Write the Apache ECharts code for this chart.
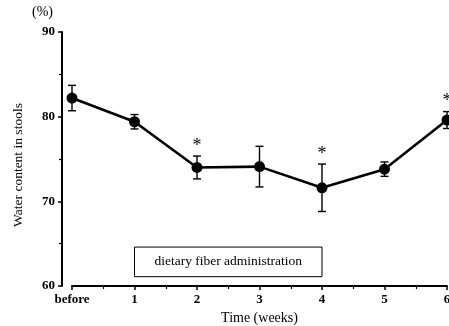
<!DOCTYPE html>
<html>
<head>
<meta charset="utf-8">
<script src="https://cdn.jsdelivr.net/npm/echarts@6/dist/echarts.min.js"></script>
<style>html,body{margin:0;padding:0;background:#fff;}#c{width:449px;height:326px;}</style>
</head>
<body>
<div id="c"></div>
<script>
const categories = ['before', '1', '2', '3', '4', '5', '6'];
const weeks = [0, 1, 2, 3, 4, 5, 6];
const means = [82.2, 79.4, 74.0, 74.1, 71.6, 73.8, 79.6];
const errors = [1.5, 0.85, 1.35, 2.4, 2.8, 0.85, 1.0];
const significant = [false, false, true, false, true, false, true];
const yRange = [60, 90];
const yStep = 10;
const boxWeeks = [1, 4];
const boxValues = [64.6, 61.1];
const boxLabel = 'dietary fiber administration';
const yTitle = 'Water content in stools';
const xTitle = 'Time (weeks)';
const unitLabel = '(%)';

const FONT = 'Liberation Serif';
const lineData = weeks.map((w, i) => [w, means[i]]);
const errData = weeks.map((w, i) => [w, means[i] - errors[i], means[i] + errors[i], significant[i] ? 1 : 0]);

const tickStyle = {show: true, length: 4, lineStyle: {color: '#000', width: 1.5}};
const minorStyle = {show: true, splitNumber: 2, length: 3, lineStyle: {color: '#000', width: 1.2}};

const chart = echarts.init(document.getElementById('c'), null, {renderer: 'canvas'});
chart.setOption({
  backgroundColor: '#fff',
  animation: false,
  grid: [
    {left: 72, right: 2, top: 32, bottom: 40, outerBoundsMode: 'none', containLabel: false},
    {left: 62, right: 2, top: 32, bottom: 40, outerBoundsMode: 'none', containLabel: false}
  ],
  xAxis: [{
    gridIndex: 0,
    type: 'value', min: 0, max: 6, interval: 1,
    name: xTitle, nameLocation: 'middle', nameGap: 18,
    nameTextStyle: {fontFamily: FONT, fontSize: 14, color: '#000'},
    axisLine: {lineStyle: {color: '#000', width: 2}},
    axisTick: tickStyle,
    minorTick: minorStyle,
    splitLine: {show: false},
    axisLabel: {
      margin: 7, fontFamily: FONT, fontWeight: 'bold', fontSize: 13, color: '#000',
      formatter: v => categories[weeks.indexOf(v)] ?? ''
    }
  }, {
    gridIndex: 1, type: 'value', min: 0, max: 1, show: false
  }],
  yAxis: [{
    gridIndex: 0,
    type: 'value', min: yRange[0], max: yRange[1], interval: yStep, show: false
  }, {
    gridIndex: 1,
    type: 'value', min: yRange[0], max: yRange[1], interval: yStep,
    axisLine: {show: true, lineStyle: {color: '#000', width: 2}},
    axisTick: tickStyle,
    minorTick: minorStyle,
    splitLine: {show: false},
    axisLabel: {margin: 7, fontFamily: FONT, fontWeight: 'bold', fontSize: 13, color: '#000'}
  }],
  graphic: [
    {type: 'text', left: 32, top: 5, style: {text: unitLabel, font: '14px "Liberation Serif"', fill: '#000'}},
    {type: 'text', x: 18, y: 165, rotation: Math.PI / 2,
      style: {text: yTitle, font: '13.5px "Liberation Serif"', fill: '#000', textAlign: 'center', textVerticalAlign: 'middle'}}
  ],
  series: [
    {
      type: 'line', data: lineData, clip: false, xAxisIndex: 0, yAxisIndex: 0,
      symbol: 'circle', symbolSize: 11,
      itemStyle: {color: '#000'},
      lineStyle: {color: '#000', width: 2.6},
      z: 3,
      markArea: {
        silent: true,
        itemStyle: {color: '#fff', borderColor: '#000', borderWidth: 1},
        label: {show: true, position: 'inside', formatter: boxLabel, fontFamily: FONT, fontSize: 13.5, color: '#000'},
        data: [[{coord: [boxWeeks[0], boxValues[0]]}, {coord: [boxWeeks[1], boxValues[1]]}]]
      }
    },
    {
      type: 'custom', data: errData, clip: false, z: 4, xAxisIndex: 0, yAxisIndex: 0,
      renderItem: function (params, api) {
        const x = api.value(0);
        const lo = api.coord([x, api.value(1)]);
        const hi = api.coord([x, api.value(2)]);
        const cw = 4;
        const st = {stroke: '#000', lineWidth: 1.4};
        const children = [
          {type: 'line', shape: {x1: lo[0], y1: lo[1], x2: hi[0], y2: hi[1]}, style: st},
          {type: 'line', shape: {x1: lo[0] - cw, y1: lo[1], x2: lo[0] + cw, y2: lo[1]}, style: st},
          {type: 'line', shape: {x1: hi[0] - cw, y1: hi[1], x2: hi[0] + cw, y2: hi[1]}, style: st}
        ];
        if (api.value(3)) {
          children.push({type: 'text', x: hi[0], y: hi[1] - 1,
            style: {text: '*', font: '18px "Liberation Serif"', fill: '#000', textAlign: 'center', textVerticalAlign: 'bottom'}});
        }
        return {type: 'group', children: children};
      }
    }
  ]
});
</script>
</body>
</html>
